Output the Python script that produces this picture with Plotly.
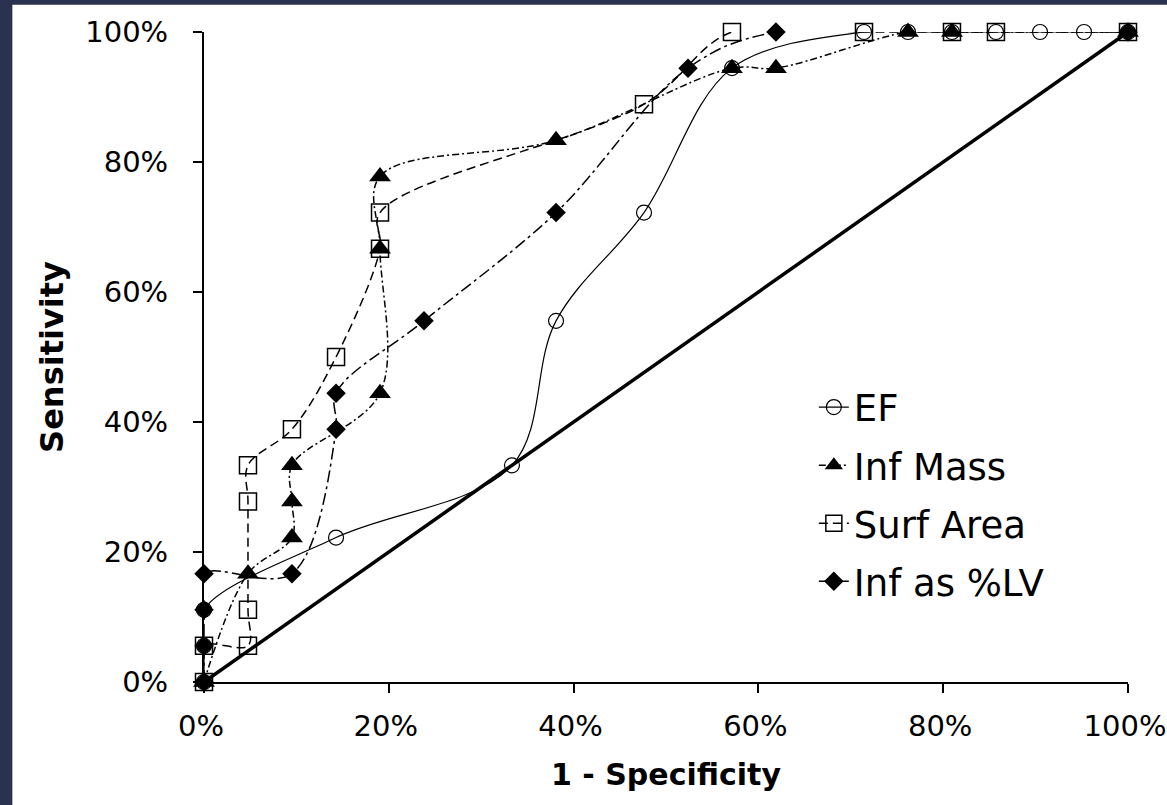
import plotly.graph_objects as go

# ---- data (percent) ----
diag_x = [0, 100]
diag_y = [0, 100]

ef_x = [0, 0, 0, 14.29, 33.33, 38.10, 47.62, 57.14, 71.43, 76.19, 80.95, 85.71, 90.48, 95.24, 100]
ef_y = [0, 5.56, 11.11, 22.22, 33.33, 55.56, 72.22, 94.44, 100, 100, 100, 100, 100, 100, 100]

im_x = [0, 4.76, 9.52, 9.52, 9.52, 19.05, 19.05, 19.05, 38.10, 57.14, 61.90, 76.19, 80.95, 100]
im_y = [0, 16.67, 22.22, 27.78, 33.33, 44.44, 66.67, 77.78, 83.33, 94.44, 94.44, 100, 100, 100]

sa_x = [0, 0, 4.76, 4.76, 4.76, 4.76, 9.52, 14.29, 19.05, 19.05, 47.62, 57.14, 71.43, 80.95, 85.71, 100]
sa_y = [0, 5.56, 5.56, 11.11, 27.78, 33.33, 38.89, 50, 66.67, 72.22, 88.89, 100, 100, 100, 100, 100]

lv_x = [0, 0, 0, 0, 9.52, 14.29, 14.29, 23.81, 38.10, 52.38, 61.90, 100]
lv_y = [0, 5.56, 11.11, 16.67, 16.67, 38.89, 44.44, 55.56, 72.22, 94.44, 100, 100]

tick_vals = [0, 20, 40, 60, 80, 100]
series_names = ["EF", "Inf Mass", "Surf Area", "Inf as %LV"]

FONT = "'DejaVu Sans', sans-serif"

fig = go.Figure()

fig.add_trace(go.Scatter(
    x=diag_x, y=diag_y, mode="lines",
    line=dict(color="black", width=3.5),
    showlegend=False, hoverinfo="skip", cliponaxis=False))

common = dict(mode="lines+markers", cliponaxis=False)

fig.add_trace(go.Scatter(
    x=ef_x, y=ef_y, name=series_names[0], legendgroup="a",
    line=dict(color="black", width=1.2, shape="spline", smoothing=1),
    marker=dict(symbol="circle-open", size=15, color="black", line=dict(width=1.2)),
    **common))

fig.add_trace(go.Scatter(
    x=im_x, y=im_y, name=series_names[1], legendgroup="b",
    line=dict(color="black", width=1.5, shape="spline", smoothing=1, dash="7px,3px,2px,3px"),
    marker=dict(symbol="triangle-up", size=19, color="black"),
    **common))

fig.add_trace(go.Scatter(
    x=sa_x, y=sa_y, name=series_names[2], legendgroup="c",
    line=dict(color="black", width=1.5, shape="spline", smoothing=1, dash="9px,5px"),
    marker=dict(symbol="square-open", size=17, color="black", line=dict(width=1.5)),
    **common))

fig.add_trace(go.Scatter(
    x=lv_x, y=lv_y, name=series_names[3], legendgroup="d",
    line=dict(color="black", width=1.5, shape="spline", smoothing=1, dash="12px,4px,3px,4px"),
    marker=dict(symbol="diamond", size=15, color="black"),
    **common))

axis_common = dict(
    showline=True, linecolor="black", linewidth=2,
    ticks="outside", ticklen=9, tickwidth=2, tickcolor="black",
    showgrid=False, zeroline=False, automargin=False,
    tickvals=tick_vals, ticktext=[f"{v}%" for v in tick_vals],
    tickfont=dict(family=FONT, size=29, color="black"),
)

fig.update_layout(
    template="none",
    width=1167, height=805,
    margin=dict(l=204, r=39, t=32, b=123, pad=0),
    paper_bgcolor="white", plot_bgcolor="white",
    font=dict(family=FONT, color="black"),
    hovermode=False,
    xaxis=dict(range=[0, 100], **axis_common, ticklabelstandoff=8, ticklabelshift=-3,
               title=dict(text="<b>1 - Specificity</b>", font=dict(family=FONT, size=30, color="black"), standoff=22)),
    yaxis=dict(range=[0, 100], **axis_common, ticklabelstandoff=19,
               title=dict(text="<b>Sensitivity</b>", font=dict(family=FONT, size=32, color="black"), standoff=12)),
    legend=dict(x=0.66, y=0.47, xanchor="left", yanchor="top",
                font=dict(family=FONT, size=37, color="black"),
                bgcolor="rgba(0,0,0,0)", borderwidth=0,
                tracegroupgap=7, traceorder="grouped"),
    shapes=[
        dict(type="rect", xref="paper", yref="paper", x0=-0.25, x1=-0.2074, y0=-0.25, y1=1.08,
             fillcolor="#2b3250", line=dict(width=0), layer="below"),
        dict(type="rect", xref="paper", yref="paper", x0=-0.25, x1=1.1, y0=1.0420, y1=1.08,
             fillcolor="#2b3250", line=dict(width=0), layer="below"),
    ],
)

fig.write_html("out.html", config={"displayModeBar": False},
               post_script="document.body.style.margin='0px';")
